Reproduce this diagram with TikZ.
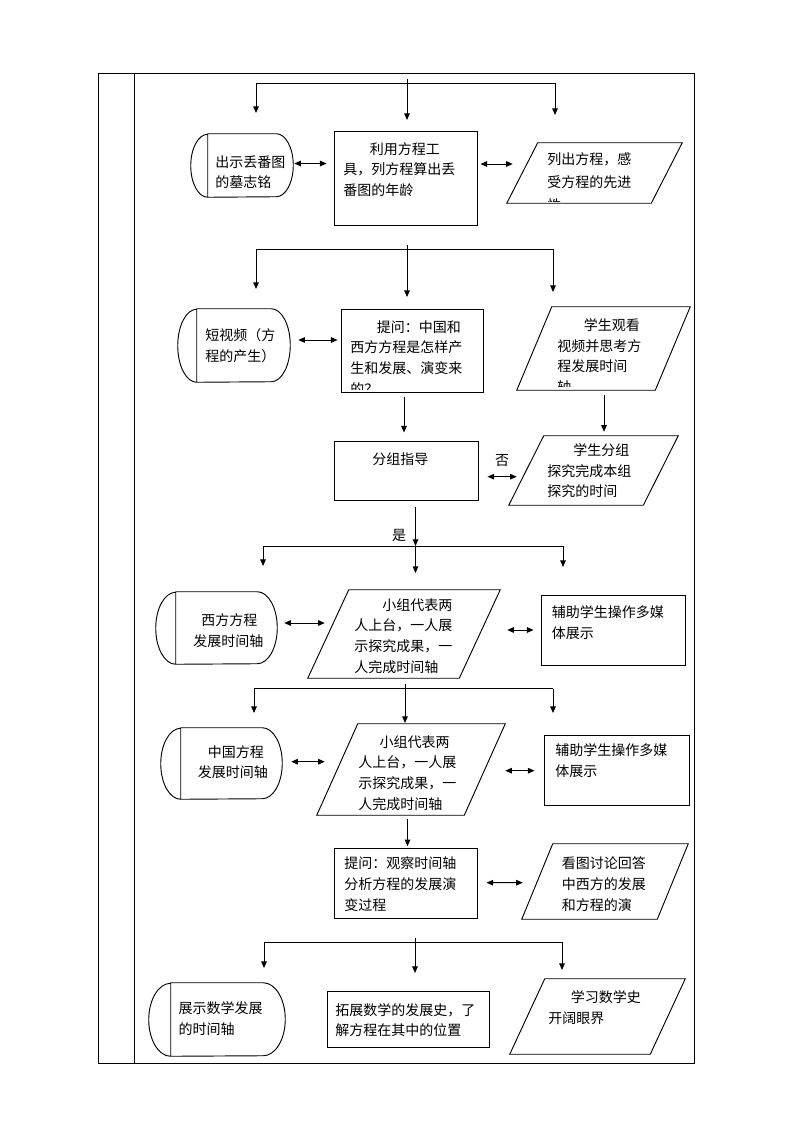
\documentclass[tikz,border=0pt]{standalone}
\usepackage{fontspec}
\setmainfont{Noto Sans CJK SC}
\usetikzlibrary{arrows.meta,calc,positioning}
\tikzset{
  xian/.style={line width=0.7pt},
  kuang/.style 2 args={draw,xian,minimum width=#1*0.75pt,minimum height=#2*0.75pt,inner sep=0pt},
  kong/.style 2 args={minimum width=#1*0.75pt,minimum height=#2*0.75pt,inner sep=0pt},
  wenzi/.style={anchor=north west,inner sep=0pt,align=left,font=\fontsize{10.5}{15.5}\selectfont},
  biaoqian/.style={inner sep=0pt,font=\fontsize{10.5}{15.5}\selectfont},
  dan/.style={xian,-{Triangle[length=5pt,width=4.2pt]}},
  shuang/.style={xian,{Triangle[length=5pt,width=4.2pt]}-{Triangle[length=5pt,width=4.2pt]}}
}
% parallelogram on the box of a node, #2 = slant (px)
\newcommand\pingxing[2]{%
  \draw[xian] (#1.south west) -- ($(#1.north west)+(#2,0)$) -- (#1.north east)
    -- ($(#1.south east)+(-#2,0)$) -- cycle;}
% start/end shape, #2 = depth of the round ends, #3 = height (px)
\newcommand\duanxing[3]{%
  \draw[xian] ($(#1.north west)+(#2,0)$) -- ($(#1.north east)+(-#2,0)$)
    arc[start angle=90,end angle=-90,x radius=#2*0.75pt,y radius=#3*0.375pt]
    -- ($(#1.south west)+(#2,0)$)
    arc[start angle=270,end angle=90,x radius=#2*0.75pt,y radius=#3*0.375pt] -- cycle
    ($(#1.north west)+(#2,0)$) -- ($(#1.south west)+(#2,0)$);}

\begin{document}
\begin{tikzpicture}[x=0.75pt,y=-0.75pt]
\useasboundingbox (0,0) rectangle (794,1123);
% frame
\draw[xian] (98,73) rectangle (694,1063);
\draw[xian] (134,73) -- (134,1063);

% row 1
\draw[xian] (407,79) -- (407,83) (256,83) -- (555,83);
\foreach \x/\y in {256/113,407/120,555/115}
  \draw[dan] (\x,83) -- (\x,\y);
\node[kong={102}{63}] (T1) at (242,165.5) {};
\duanxing{T1}{17}{63}
\node[kuang={143}{94}] (R1) at (405.5,178) {};
\node[kong={175}{60}] (P1) at (594.5,173) {};
\pingxing{P1}{31}
\node[wenzi] (T1w) at (215,155) {出示丢番图\\的墓志铭};
\node[wenzi] (R1w) at (343,142) {\hspace*{20pt}利用方程工\\具，列方程算出丢\\番图的年龄};
\begin{scope}
  \clip (P1.north west) rectangle (682,202);
  \node[wenzi,font=\fontsize{10.5}{17.5}\selectfont] (P1w) at (547,152) {列出方程，感\\受方程的先进\\性};
\end{scope}
\draw[shuang] ($(T1.east)+(1,-2)$) -- ($(R1.west)+(-7,-14.5)$);
\draw[shuang] ($(R1.east)+(3,-14)$) -- ($(P1.west)+(6,-9)$);

% row 2
\draw[xian] (407,245) -- (407,249) (256,249) -- (553,249);
\foreach \x/\y in {256/289,407/297,553/292}
  \draw[dan] (\x,249) -- (\x,\y);
\node[kong={112}{73}] (T2) at (234,345.5) {};
\duanxing{T2}{19}{73}
\node[kuang={142}{83}] (R2) at (412,350.5) {};
\node[kong={173}{83}] (P2) at (603.5,348.5) {};
\pingxing{P2}{35}
\node[wenzi] (T2w) at (205,328.5) {短视频（方\\程的产生）};
\begin{scope}
  \clip (R2.north west) rectangle (483,389.5);
  \node[wenzi] (R2w) at (350,320.2) {\hspace*{20pt}提问：中国和\\西方方程是怎样产\\生和发展、演变来\\的？};
\end{scope}
\begin{scope}
  \clip (P2.north west) rectangle (690,386);
  \node[wenzi] (P2w) at (557,318.5) {\hspace*{20pt}学生观看\\视频并思考方\\程发展时间\\轴};
\end{scope}
\draw[shuang] ($(T2.east)+(8,-5.5)$) -- ($(R2.west)+(-3,-10.5)$);

% row 3
\node[kuang={144}{59}] (R3) at (406,470.5) {};
\node[kong={169}{69}] (P3) at (593.5,470.5) {};
\pingxing{P3}{35}
\node[wenzi] (R3w) at (372,452) {分组指导};
\node[wenzi] (P3w) at (547,443.5) {\hspace*{19.5pt}学生分组\\探究完成本组\\探究的时间};
\draw[dan] ($(R2.south)+(-8,5)$) -- ($(R3.north)+(-2,-8)$);
\draw[dan] ($(P2.south)+(0.5,5)$) -- ($(P3.north)+(10.5,-4)$);
\draw[shuang] ($(R3.east)+(9,6.2)$) -- ($(P3.west)+(8,6.2)$);
\node[biaoqian] (fou) at (502,461) {否};
\coordinate (f4) at (415.5,546);
\draw[dan] ($(R3.south)+(9.5,7)$) -- (f4);
\node[biaoqian] (shi) at (399,535) {是};

% row 4
\draw[xian] (263,546) -- (563,546);
\foreach \x/\y in {263/566,415.5/573,563/567}
  \draw[dan] (\x,546) -- (\x,\y);
\node[kong={121}{72}] (T4) at (216.5,628) {};
\duanxing{T4}{20}{72}
\node[kong={192}{88}] (P4) at (404,634) {};
\pingxing{P4}{41}
\node[kuang={144}{70}] (R4) at (613,630) {};
\node[wenzi] (T4w) at (193,613.5) {\hspace*{6pt}西方方程\\发展时间轴};
\node[wenzi] (P4w) at (354,598) {\hspace*{21pt}小组代表两\\人上台，一人展\\示探究成果，一\\人完成时间轴};
\node[wenzi] (R4w) at (551.5,605.2) {辅助学生操作多媒\\体展示};
\draw[shuang] ($(T4.east)+(7,-5)$) -- ($(P4.west)+(17,-11)$);
\draw[shuang] ($(P4.east)+(7,-4)$) -- ($(R4.west)+(-7,0)$);

% row 5
\draw[xian] (405,684) -- (405,688.5) (254,688.5) -- (553,688.5);
\foreach \x/\y in {254/713,405/723,553/713}
  \draw[dan] (\x,688.5) -- (\x,\y);
\node[kong={121}{71}] (T5) at (221.5,763.5) {};
\duanxing{T5}{20}{71}
\node[kong={188}{91}] (P5) at (411,769.5) {};
\pingxing{P5}{41}
\node[kuang={145}{70}] (R5) at (616.5,770) {};
\node[wenzi] (T5w) at (197.7,745.2) {\hspace*{7.5pt}中国方程\\发展时间轴};
\node[wenzi] (P5w) at (358,735.2) {\hspace*{16pt}小组代表两\\人上台，一人展\\示探究成果，一\\人完成时间轴};
\node[wenzi] (R5w) at (555,743.5) {辅助学生操作多媒\\体展示};
\draw[shuang] ($(T5.east)+(9,-1.8)$) -- ($(P5.west)+(8,-7.8)$);
\draw[shuang] ($(P5.east)+(0,1.2)$) -- ($(R5.west)+(-9,0.7)$);

% row 6
\node[kuang={143}{70}] (R6) at (405.5,883) {};
\node[kong={166}{75}] (P6) at (605,881.5) {};
\pingxing{P6}{31}
\node[wenzi] (R6w) at (344,856.8) {提问：观察时间轴\\分析方程的发展演\\变过程};
\node[wenzi] (P6w) at (561.7,856.8) {看图讨论回答\\中西方的发展\\和方程的演};
\draw[dan] ($(P5.south)+(-3.5,4)$) -- ($(R6.north)+(2,-1.3)$);
\draw[shuang] ($(R6.east)+(9,-0.3)$) -- ($(P6.west)+(1,1.2)$);

% row 7
\draw[xian] (415,938) -- (415,942) (264,942) -- (562,942);
\foreach \x/\y in {264/968,415/973,562/970}
  \draw[dan] (\x,942) -- (\x,\y);
\node[kong={136}{73}] (T7) at (217,1019.5) {};
\duanxing{T7}{22}{73}
\node[kuang={162}{56}] (R7) at (408,1019) {};
\node[kong={175}{75}] (P7) at (597.5,1016.5) {};
\pingxing{P7}{35}
\node[wenzi] (T7w) at (178.3,1001.8) {展示数学发展\\的时间轴};
\node[wenzi] (R7w) at (335,1003) {拓展数学的发展史，了\\解方程在其中的位置};
\node[wenzi] (P7w) at (548,990.2) {\hspace*{17pt}学习数学史\\开阔眼界};
\end{tikzpicture}
\end{document}
